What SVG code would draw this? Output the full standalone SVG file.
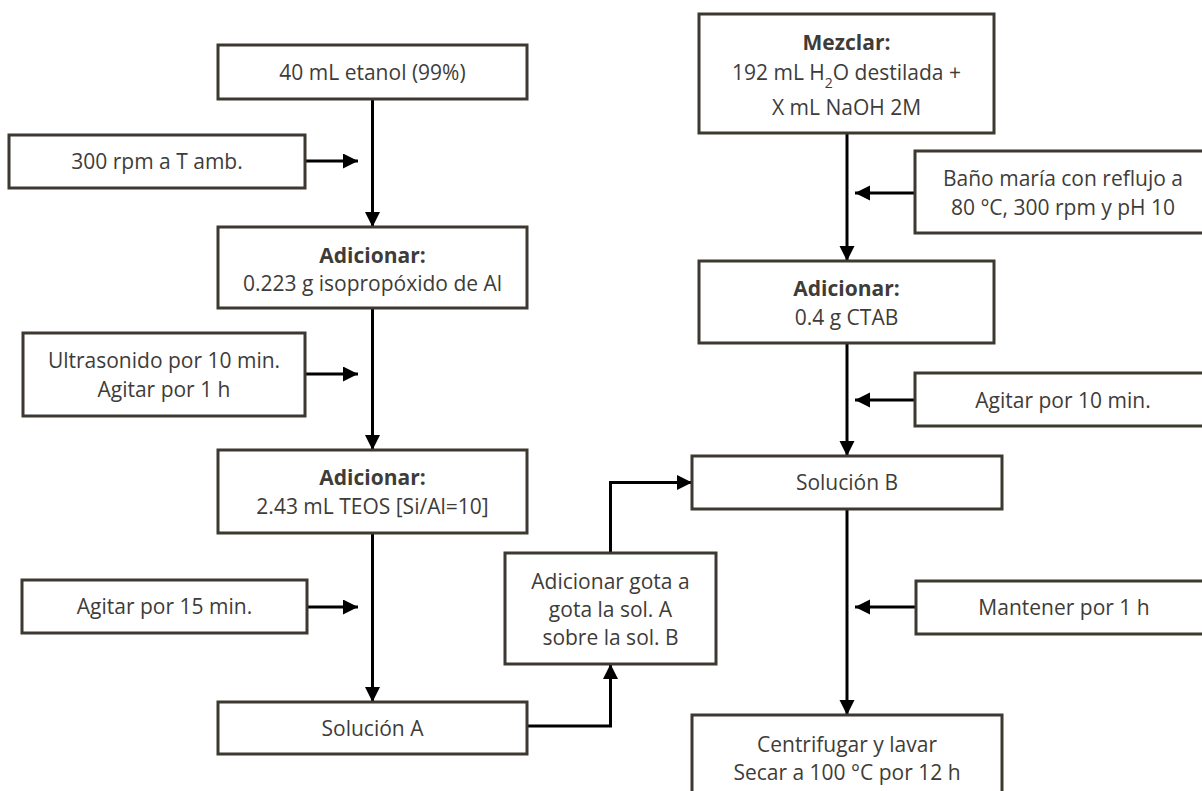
<svg xmlns="http://www.w3.org/2000/svg" width="1202" height="791" viewBox="0 0 1202 791">
  <defs>
    <style>
      .box { fill: #ffffff; stroke: #3d3931; stroke-width: 3; }
      .t { font-family: "Open Sans", "Liberation Sans", sans-serif; font-size: 21px; fill: #3e3c39; text-anchor: middle; }
      .b { font-weight: 700; }
      .sub { font-size: 14px; }
      .conn { fill: none; stroke: #000000; stroke-width: 3; stroke-linejoin: miter; }
    </style>
    <marker id="arrow" markerUnits="userSpaceOnUse" markerWidth="16" markerHeight="16" refX="15" refY="7.5" orient="auto">
      <path d="M0,0 L15,7.5 L0,15 Z" fill="#000000"/>
    </marker>
  </defs>

  <rect width="1202" height="791" fill="#ffffff"/>

  <!-- Connectors -->
  <g id="connectors">
    <!-- left column, main flow -->
    <line class="conn" x1="372.5" y1="99" x2="372.5" y2="227" marker-end="url(#arrow)"/>
    <line class="conn" x1="372.5" y1="308" x2="372.5" y2="450" marker-end="url(#arrow)"/>
    <line class="conn" x1="372.5" y1="533" x2="372.5" y2="702" marker-end="url(#arrow)"/>
    <!-- left column, side conditions -->
    <line class="conn" x1="305" y1="161" x2="358" y2="161" marker-end="url(#arrow)"/>
    <line class="conn" x1="305" y1="374" x2="358" y2="374" marker-end="url(#arrow)"/>
    <line class="conn" x1="307" y1="607" x2="358" y2="607" marker-end="url(#arrow)"/>
    <!-- Solución A into dropwise addition, then into Solución B -->
    <polyline class="conn" points="527,726 610.5,726 610.5,664" marker-end="url(#arrow)"/>
    <polyline class="conn" points="610.5,553 610.5,482.5 692,482.5" marker-end="url(#arrow)"/>
    <!-- right column, main flow -->
    <line class="conn" x1="847" y1="133" x2="847" y2="261" marker-end="url(#arrow)"/>
    <line class="conn" x1="847" y1="343" x2="847" y2="456" marker-end="url(#arrow)"/>
    <line class="conn" x1="847" y1="509" x2="847" y2="715" marker-end="url(#arrow)"/>
    <!-- right column, side conditions -->
    <line class="conn" x1="915" y1="193" x2="855" y2="193" marker-end="url(#arrow)"/>
    <line class="conn" x1="915" y1="400" x2="855" y2="400" marker-end="url(#arrow)"/>
    <line class="conn" x1="915" y1="607" x2="855" y2="607" marker-end="url(#arrow)"/>
  </g>

  <!-- Left column -->
  <g id="etanol">
    <rect class="box" x="218" y="45" width="309" height="54"/>
    <text class="t" x="372.5" y="79.5">40 mL etanol (99%)</text>
  </g>
  <g id="rpm-amb">
    <rect class="box" x="9" y="135" width="296" height="53"/>
    <text class="t" x="157" y="169">300 rpm a T amb.</text>
  </g>
  <g id="adicionar-al">
    <rect class="box" x="218" y="227" width="309" height="81"/>
    <text class="t b" x="372.5" y="262.5">Adicionar:</text>
    <text class="t" x="372.5" y="290.5">0.223 g isopropóxido de Al</text>
  </g>
  <g id="ultrasonido">
    <rect class="box" x="23" y="333" width="282" height="83"/>
    <text class="t" x="164" y="368">Ultrasonido por 10 min.</text>
    <text class="t" x="164" y="396.5">Agitar por 1 h</text>
  </g>
  <g id="adicionar-teos">
    <rect class="box" x="218" y="450" width="309" height="83"/>
    <text class="t b" x="372.5" y="485">Adicionar:</text>
    <text class="t" x="372.5" y="514">2.43 mL TEOS [Si/Al=10]</text>
  </g>
  <g id="agitar-15">
    <rect class="box" x="22" y="580" width="285" height="53"/>
    <text class="t" x="164.5" y="614">Agitar por 15 min.</text>
  </g>
  <g id="solucion-a">
    <rect class="box" x="218" y="702" width="309" height="52"/>
    <text class="t" x="372.5" y="736">Solución A</text>
  </g>

  <!-- Dropwise addition -->
  <g id="gota-a-gota">
    <rect class="box" x="505" y="553" width="211" height="111"/>
    <text class="t" x="610.5" y="588.5">Adicionar gota a</text>
    <text class="t" x="610.5" y="616.5">gota la sol. A</text>
    <text class="t" x="610.5" y="644.5">sobre la sol. B</text>
  </g>

  <!-- Right column -->
  <g id="mezclar">
    <rect class="box" x="699" y="14" width="295" height="119"/>
    <text class="t b" x="846.5" y="50">Mezclar:</text>
    <text class="t" x="846.5" y="79.5">192 mL H<tspan class="sub" dy="8">2</tspan><tspan dy="-8">O destilada +</tspan></text>
    <text class="t" x="846.5" y="115">X mL NaOH 2M</text>
  </g>
  <g id="bano-maria">
    <rect class="box" x="915" y="151" width="298" height="82"/>
    <text class="t" x="1063" y="185.5">Baño maría con reflujo a</text>
    <text class="t" x="1063" y="214.5">80 °C, 300 rpm y pH 10</text>
  </g>
  <g id="adicionar-ctab">
    <rect class="box" x="699" y="261" width="295" height="82"/>
    <text class="t b" x="846.5" y="295.5">Adicionar:</text>
    <text class="t" x="846.5" y="325">0.4 g CTAB</text>
  </g>
  <g id="agitar-10">
    <rect class="box" x="915" y="373" width="298" height="53"/>
    <text class="t" x="1063" y="407.5">Agitar por 10 min.</text>
  </g>
  <g id="solucion-b">
    <rect class="box" x="692" y="456" width="310" height="53"/>
    <text class="t" x="847" y="490">Solución B</text>
  </g>
  <g id="mantener">
    <rect class="box" x="916" y="581" width="298" height="53"/>
    <text class="t" x="1064" y="615">Mantener por 1 h</text>
  </g>
  <g id="centrifugar">
    <rect class="box" x="692" y="715" width="310" height="90"/>
    <text class="t" x="847" y="751.5">Centrifugar y lavar</text>
    <text class="t" x="847" y="780">Secar a 100 °C por 12 h</text>
  </g>
</svg>
